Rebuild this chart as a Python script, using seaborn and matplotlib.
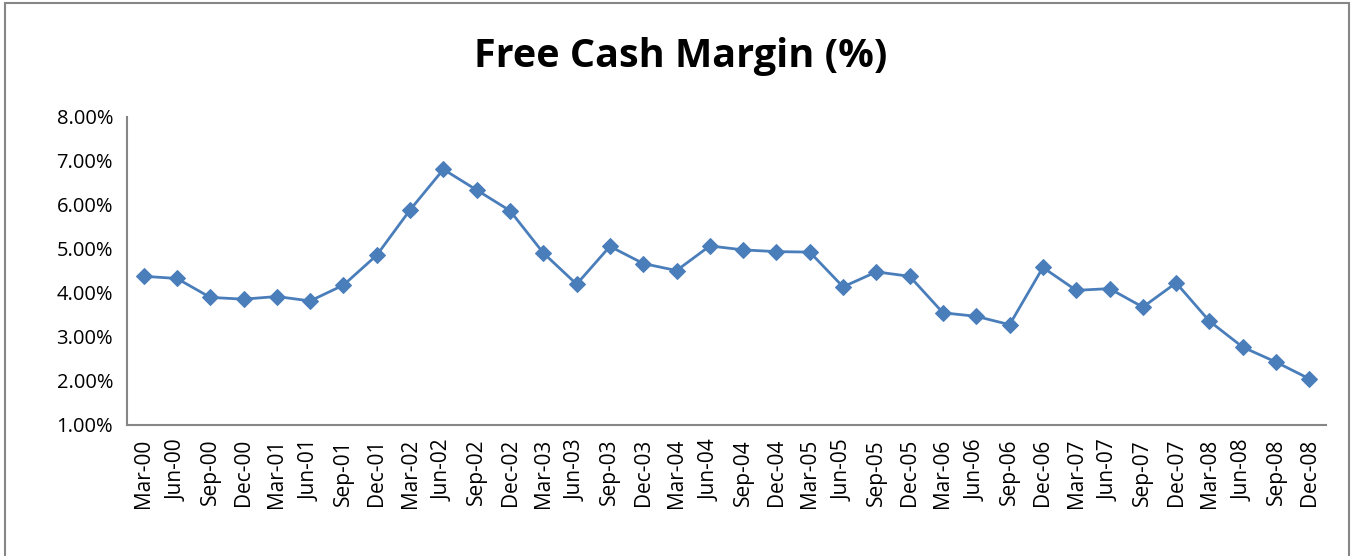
import numpy as np
import pandas as pd
import seaborn as sns
from matplotlib import pyplot as plt
from matplotlib.ticker import PercentFormatter, FixedLocator
from matplotlib.patches import Rectangle

quarters = ["Mar-00", "Jun-00", "Sep-00", "Dec-00", "Mar-01", "Jun-01", "Sep-01", "Dec-01",
            "Mar-02", "Jun-02", "Sep-02", "Dec-02", "Mar-03", "Jun-03", "Sep-03", "Dec-03",
            "Mar-04", "Jun-04", "Sep-04", "Dec-04", "Mar-05", "Jun-05", "Sep-05", "Dec-05",
            "Mar-06", "Jun-06", "Sep-06", "Dec-06", "Mar-07", "Jun-07", "Sep-07", "Dec-07",
            "Mar-08", "Jun-08", "Sep-08", "Dec-08"]
margin = [4.38, 4.33, 3.90, 3.86, 3.92, 3.82, 4.18, 4.86,
          5.89, 6.81, 6.34, 5.87, 4.91, 4.20, 5.06, 4.67,
          4.51, 5.07, 4.98, 4.94, 4.93, 4.14, 4.48, 4.38,
          3.55, 3.47, 3.28, 4.58, 4.06, 4.10, 3.68, 4.23,
          3.36, 2.77, 2.43, 2.05]

sns.set_style("white")
plt.rcParams['font.family'] = ['Open Sans', 'DejaVu Sans']
plt.rcParams['text.color'] = 'black'
plt.rcParams['xtick.labelcolor'] = 'black'
plt.rcParams['ytick.labelcolor'] = 'black'

df = pd.DataFrame({"pos": np.arange(len(quarters)), "margin": margin})

fig = plt.figure(figsize=(13.53, 5.56), dpi=100)
ax = fig.add_axes([127 / 1353, 1 - 425 / 556, (1326 - 127) / 1353, (425 - 117) / 556])

sns.lineplot(data=df, x="pos", y="margin", ax=ax, color="#4a7ebb", linewidth=2,
             marker="D", markersize=8.5, markeredgecolor="#4a7ebb")

grey = "#868686"
ax.set_xlim(-0.5, len(quarters) - 0.5)
ax.set_ylim(1, 8)
ax.set_yticks(np.arange(1, 9))
ax.yaxis.set_major_formatter(PercentFormatter(decimals=2))
ax.set_xticks(df["pos"])
ax.set_xticklabels(quarters, rotation=90)
ax.xaxis.set_minor_locator(FixedLocator(np.arange(-0.5, len(quarters), 1)))
ax.tick_params(axis="x", which="major", length=0, pad=10, labelsize=15)
ax.tick_params(axis="x", which="minor", length=6, width=1.2, color=grey, direction="out")
ax.tick_params(axis="y", which="major", length=6, width=1.2, color=grey, direction="out",
               labelsize=14.5, pad=4)
for side in ["top", "right"]:
    ax.spines[side].set_visible(False)
for side in ["left", "bottom"]:
    ax.spines[side].set_color(grey)
    ax.spines[side].set_linewidth(1.5)
ax.set_xlabel("")
ax.set_ylabel("")

fig.text(0.503, 1 - 57 / 556, "Free Cash Margin (%)", ha="center", va="center",
         fontsize=28.5, fontweight="bold", color="black")
fig.patches.append(Rectangle((5 / 1353, -0.02), 1344 / 1353, 1.0 - 3 / 556 + 0.02,
                             transform=fig.transFigure, fill=False, edgecolor=grey,
                             linewidth=1.5))

plt.savefig("out.png", dpi=100)
